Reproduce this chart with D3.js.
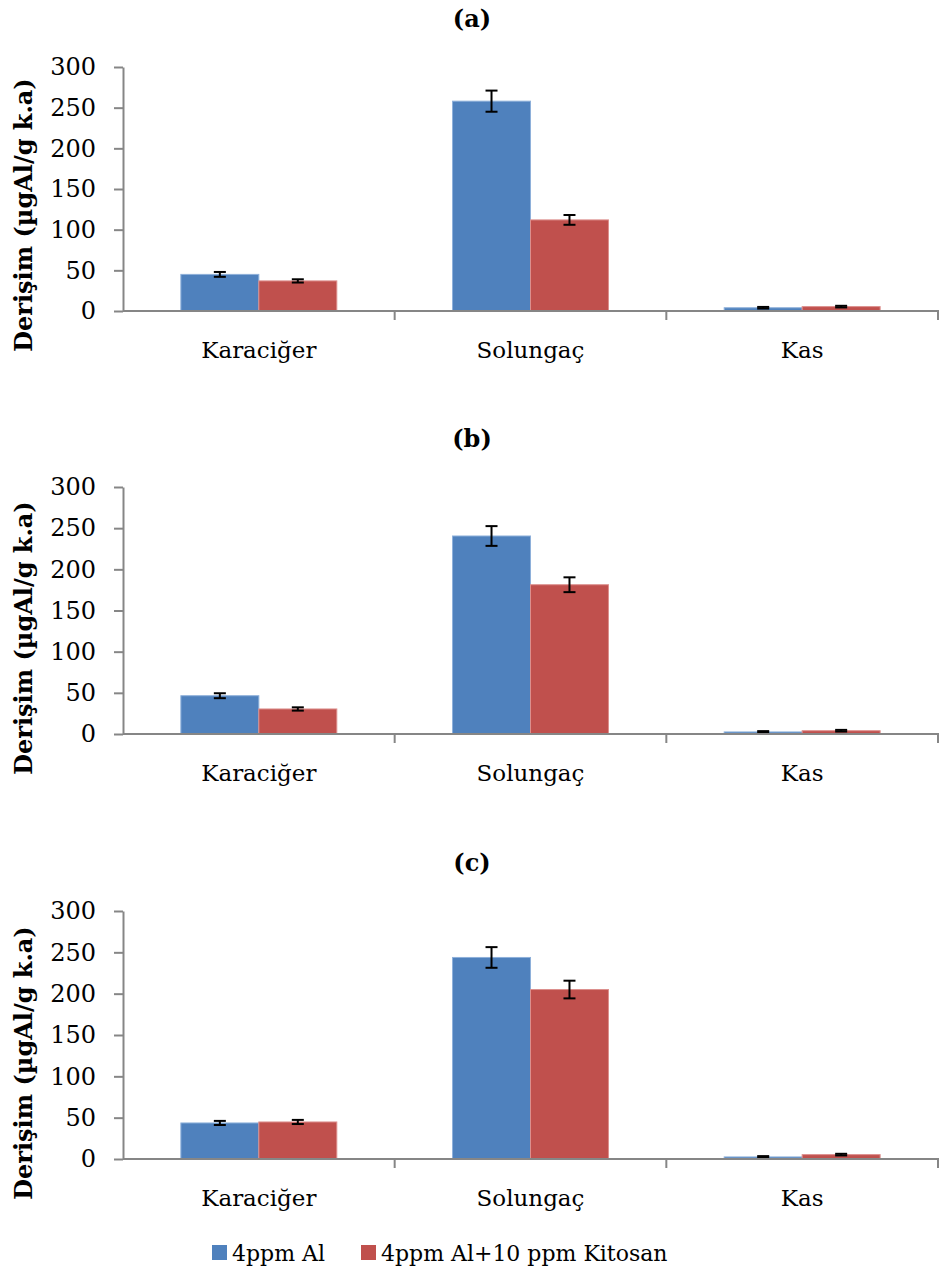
<!DOCTYPE html>
<html>
<head>
<meta charset="utf-8">
<script src="https://cdn.jsdelivr.net/npm/d3@7"></script>
<style>
  body { margin: 0; background: #fff; }
  svg text { font-family: "DejaVu Serif", "Liberation Serif", serif; fill: #000; }
</style>
</head>
<body>
<svg id="chart" width="939" height="1273"></svg>
<script>
/*jslint browser: true*/

var categories = ['Karaciğer', 'Solungaç', 'Kas'];
var seriesNames = ['4ppm Al', '4ppm Al+10 ppm Kitosan'];
var panelTitles = ['(a)', '(b)', '(c)'];
var yTicks = [0, 50, 100, 150, 200, 250, 300];
var yLabel = 'Derişim (µgAl/g k.a)';

// values per panel: [Karaciğer, Solungaç, Kas]
var alA = [45, 258, 4];
var kitA = [37, 112, 5.4];
var alErrA = [3, 13, 1];
var kitErrA = [2, 6, 1];

var alB = [46.5, 240.5, 2.5];
var kitB = [30.4, 181.3, 4];
var alErrB = [3, 12, 1];
var kitErrB = [2, 9, 1];

var alC = [43.6, 243.8, 2.5];
var kitC = [44.8, 205, 5.3];
var alErrC = [2.5, 12.5, 1];
var kitErrC = [2.5, 10.7, 1];

(function (d3) {
    'use strict';

    var colors = ['#4F81BD', '#C0504D'],
        borders = ['#8EB0DA', '#DC8F8D'],
        axisColor = '#868686',
        left = 123,
        right = 938,
        tops = [67, 487, 911],
        bottoms = [311, 734, 1159],
        panels = [
            {vals: [alA, kitA], errs: [alErrA, kitErrA]},
            {vals: [alB, kitB], errs: [alErrB, kitErrB]},
            {vals: [alC, kitC], errs: [alErrC, kitErrC]}
        ],
        svg = d3.select('#chart');

    var x0 = d3.scaleBand().domain(categories).range([left, right]);
    var x1 = d3.scaleBand().domain(seriesNames)
        .range([x0.bandwidth() * 0.213, x0.bandwidth() * 0.787]);

    panels.forEach(function (p, i) {
        var y = d3.scaleLinear().domain([0, 300]).range([bottoms[i], tops[i]]),
            g = svg.append('g');

        g.append('text')
            .attr('x', 472)
            .attr('y', tops[i] - 40)
            .attr('text-anchor', 'middle')
            .style('font-size', '24px')
            .style('font-weight', 'bold')
            .text(panelTitles[i]);

        g.append('text')
            .attr('transform', 'translate(32,' + (bottoms[i] - 96) + ') rotate(-90)')
            .attr('text-anchor', 'middle')
            .style('font-size', '24px')
            .style('font-weight', 'bold')
            .text(yLabel);

        // bars
        var rows = [];
        categories.forEach(function (c, ci) {
            seriesNames.forEach(function (s, si) {
                rows.push({c: c, s: s, si: si, v: p.vals[si][ci], e: p.errs[si][ci]});
            });
        });

        g.selectAll('rect.bar')
            .data(rows).enter()
          .append('rect')
            .attr('class', 'bar')
            .attr('x', function (d) { return x0(d.c) + x1(d.s); })
            .attr('y', function (d) { return y(d.v); })
            .attr('width', x1.bandwidth())
            .attr('height', function (d) { return bottoms[i] - y(d.v); })
            .style('fill', function (d) { return colors[d.si]; })
            .style('stroke', function (d) { return borders[d.si]; })
            .style('stroke-width', 1);

        // error bars
        var eb = g.selectAll('g.err')
            .data(rows).enter()
          .append('g')
            .attr('class', 'err')
            .attr('transform', function (d) {
                return 'translate(' + (x0(d.c) + x1(d.s) + x1.bandwidth() / 2) + ',0)';
            })
            .style('stroke', '#000')
            .style('stroke-width', 2);
        eb.append('line')
            .attr('y1', function (d) { return y(d.v + d.e); })
            .attr('y2', function (d) { return y(d.v - d.e); });
        eb.append('line')
            .attr('x1', -6).attr('x2', 6)
            .attr('y1', function (d) { return y(d.v + d.e); })
            .attr('y2', function (d) { return y(d.v + d.e); });
        eb.append('line')
            .attr('x1', -6).attr('x2', 6)
            .attr('y1', function (d) { return y(d.v - d.e); })
            .attr('y2', function (d) { return y(d.v - d.e); });

        // y axis
        var ya = g.append('g')
            .attr('transform', 'translate(' + left + ',0)')
            .call(d3.axisLeft(y).tickValues(yTicks).tickSize(9).tickPadding(18).tickSizeOuter(0));
        ya.select('.domain').style('stroke', axisColor).style('stroke-width', 2);
        ya.selectAll('.tick line').style('stroke', axisColor).style('stroke-width', 2);
        ya.selectAll('.tick text')
            .style('font-family', '"DejaVu Serif", serif')
            .style('font-size', '24px');

        // x axis
        g.append('line')
            .attr('x1', left).attr('x2', right + 1)
            .attr('y1', bottoms[i]).attr('y2', bottoms[i])
            .style('stroke', axisColor).style('stroke-width', 2);
        g.selectAll('line.xtick')
            .data(categories).enter()
          .append('line')
            .attr('class', 'xtick')
            .attr('x1', function (d) { return x0(d) + x0.bandwidth(); })
            .attr('x2', function (d) { return x0(d) + x0.bandwidth(); })
            .attr('y1', bottoms[i])
            .attr('y2', bottoms[i] + 9)
            .style('stroke', axisColor).style('stroke-width', 2);
        g.selectAll('text.xlab')
            .data(categories).enter()
          .append('text')
            .attr('class', 'xlab')
            .attr('x', function (d) { return x0(d) + x0.bandwidth() / 2; })
            .attr('y', bottoms[i] + 47)
            .attr('text-anchor', 'middle')
            .style('font-size', '23px')
            .text(function (d) { return d; });
    });

    // legend
    var legX = [212, 361],
        leg = svg.selectAll('g.leg')
            .data(seriesNames).enter()
          .append('g')
            .attr('class', 'leg')
            .attr('transform', function (d, i) { return 'translate(' + legX[i] + ',1245)'; });
    leg.append('rect')
        .attr('width', 15).attr('height', 15)
        .style('fill', function (d, i) { return colors[i]; });
    leg.append('text')
        .attr('x', 20)
        .attr('y', 16)
        .style('font-size', '22px')
        .text(function (d) { return d; });

}(window.d3));
</script>
</body>
</html>
